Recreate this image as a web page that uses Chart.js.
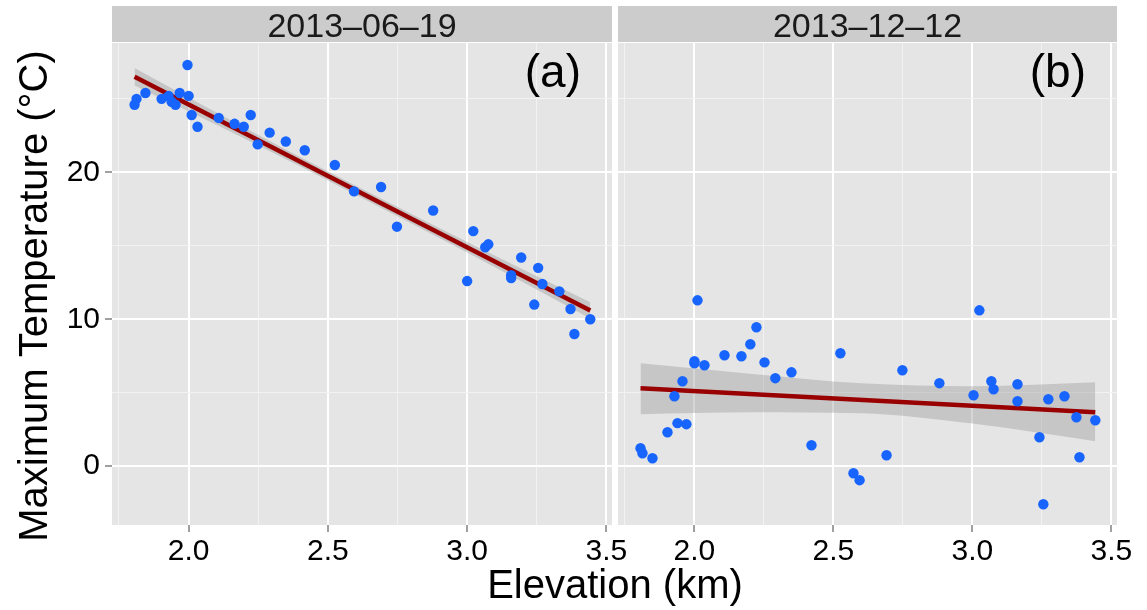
<!DOCTYPE html>
<html>
<head>
<meta charset="utf-8">
<script src="https://cdn.jsdelivr.net/npm/chart.js@4.4.0/dist/chart.umd.min.js"></script>
<style>
body { margin: 0; background: #fff; width: 1147px; height: 610px; position: relative; overflow: hidden;
       font-family: "Liberation Sans", Arial, sans-serif; }
#chartA { position: absolute; left: 0; top: 0; }
#chartB { position: absolute; left: 600px; top: 0; }
#xtitle { position: absolute; left: 415px; width: 400px; top: 564px; text-align: center;
          font-size: 40px; line-height: 40px; color: #000; }
</style>
</head>
<body>
<canvas id="chartA" width="640" height="610"></canvas>
<canvas id="chartB" width="547" height="610"></canvas>
<div id="xtitle">Elevation (km)</div>
<script>
// panel names and tags
var panelNames = ['2013–06–19', '2013–12–12'];
var panelTags = ['(a)', '(b)'];

// station data, panel (a)
var elevA = [1.806, 1.813, 1.845, 1.903, 1.928, 1.939, 1.953, 1.968, 1.996, 2.0, 2.011, 2.032, 2.108,
             2.165, 2.198, 2.223, 2.248, 2.291, 2.349, 2.417, 2.525, 2.594, 2.691, 2.748, 2.878, 3.0,
             3.022, 3.065, 3.076, 3.158, 3.158, 3.194, 3.241, 3.255, 3.270, 3.331, 3.371, 3.385, 3.442];
var tempA = [24.6, 25.0, 25.4, 25.0, 25.2, 24.8, 24.6, 25.4, 27.3, 25.2, 23.9, 23.1, 23.7,
             23.3, 23.1, 23.9, 21.9, 22.7, 22.1, 21.5, 20.5, 18.7, 19.0, 16.3, 17.4, 12.6,
             16.0, 14.9, 15.1, 13.0, 12.8, 14.2, 11.0, 13.5, 12.4, 11.9, 10.7, 9.0, 10.0];

// station data, panel (b)
var elevB = [1.806, 1.813, 1.849, 1.903, 1.928, 1.939, 1.957, 1.971, 2.0, 2.0, 2.011, 2.036, 2.108,
             2.169, 2.201, 2.223, 2.252, 2.291, 2.349, 2.421, 2.525, 2.572, 2.594, 2.691, 2.748, 2.881,
             3.004, 3.025, 3.068, 3.076, 3.162, 3.162, 3.241, 3.255, 3.273, 3.331, 3.374, 3.385, 3.442];
var tempB = [1.22, 0.88, 0.54, 2.31, 4.76, 2.93, 5.78, 2.86, 7.14, 7.0, 11.29, 6.87, 7.55,
             7.48, 8.30, 9.46, 7.07, 5.99, 6.39, 1.43, 7.69, -0.48, -0.95, 0.75, 6.53, 5.65,
             4.83, 10.61, 5.78, 5.24, 5.58, 4.42, 1.97, -2.59, 4.56, 4.76, 3.33, 0.61, 3.13];

// fitted lines and confidence bands
var fitXA = [1.806, 3.442];
var fitYA = [26.5, 10.6];
var bandXA = [1.806, 2.2, 2.6, 3.0, 3.442];
var bandLoA = [25.9, 22.3, 18.48, 14.54, 10.05];
var bandHiA = [27.1, 23.05, 19.08, 15.26, 11.15];

var fitXB = [1.806, 3.442];
var fitYB = [5.31, 3.67];
var bandXB = [1.806, 2.2, 2.6, 3.0, 3.442];
var bandLoB = [3.54, 3.67, 3.6, 2.9, 1.7];
var bandHiB = [7.0, 6.3, 5.65, 5.45, 5.71];

// axes
var xTicks = [1.75, 2.0, 2.25, 2.5, 2.75, 3.0, 3.25, 3.5];
var xTickLabels = ['', '2.0', '', '2.5', '', '3.0', '', '3.5'];
var yTicks = [0, 5, 10, 15, 20, 25];
var yTickLabels = ['0', '', '10', '', '20', ''];
var xMin = 1.725, xMax = 3.52;
var yMin = -4.0, yMax = 28.8;

Chart.defaults.font.family = '"Liberation Sans", Arial, sans-serif';

function pts(xs, ys) {
    return xs.map(function (x, i) { return { x: x, y: ys[i] }; });
}

function decoPlugin(name, tag, yTitle) {
    return {
        id: 'deco',
        beforeDraw: function (chart) {
            var a = chart.chartArea, c = chart.ctx;
            c.save();
            c.fillStyle = '#e5e5e5';
            c.fillRect(a.left, a.top, a.right - a.left, a.bottom - a.top);
            c.fillStyle = '#cccccc';
            c.fillRect(a.left, 6, a.right - a.left, a.top - 7);
            c.fillStyle = '#1a1a1a';
            c.font = '34px "Liberation Sans", Arial, sans-serif';
            c.textAlign = 'center';
            c.textBaseline = 'alphabetic';
            c.fillText(name, (a.left + a.right) / 2, 37);
            c.restore();
        },
        afterDraw: function (chart) {
            var a = chart.chartArea, c = chart.ctx;
            c.save();
            c.fillStyle = '#000';
            c.font = '46px "Liberation Sans", Arial, sans-serif';
            c.textAlign = 'right';
            c.textBaseline = 'alphabetic';
            c.fillText(tag, a.right - 31, 87);
            if (yTitle) {
                c.translate(47, 296);
                c.rotate(-Math.PI / 2);
                c.font = '40px "Liberation Sans", Arial, sans-serif';
                c.textAlign = 'center';
                c.fillText(yTitle, 0, 0);
            }
            c.restore();
        }
    };
}

function makePanel(id, i, elev, temp, fitX, fitY, bandX, bandLo, bandHi, showY, pad) {
    var ctx = document.getElementById(id).getContext('2d');
    return new Chart(ctx, {
        type: 'scatter',
        data: {
            datasets: [{
                data: pts(elev, temp),
                backgroundColor: '#1764ff',
                borderWidth: 0,
                pointRadius: 5.2
            }, {
                type: 'line',
                data: pts(fitX, fitY),
                borderColor: '#990000',
                borderWidth: 4.5,
                pointRadius: 0,
                fill: false
            }, {
                type: 'line',
                data: pts(bandX, bandHi),
                borderWidth: 0,
                borderColor: 'rgba(0,0,0,0)',
                backgroundColor: 'rgba(153,153,153,0.4)',
                pointRadius: 0,
                cubicInterpolationMode: 'monotone',
                fill: '+1'
            }, {
                type: 'line',
                data: pts(bandX, bandLo),
                borderWidth: 0,
                borderColor: 'rgba(0,0,0,0)',
                pointRadius: 0,
                cubicInterpolationMode: 'monotone',
                fill: false
            }]
        },
        options: {
            responsive: false,
            animation: false,
            layout: { padding: pad },
            plugins: { legend: { display: false }, tooltip: { enabled: false } },
            scales: {
                x: {
                    type: 'linear', min: xMin, max: xMax,
                    afterBuildTicks: function (s) { s.ticks = xTicks.map(function (v) { return { value: v }; }); },
                    afterFit: function (s) { s.height = 85; },
                    border: { display: false },
                    grid: {
                        color: function (c) { return xTickLabels[c.index] ? '#ffffff' : '#f2f2f2'; },
                        lineWidth: function (c) { return xTickLabels[c.index] ? 2 : 1; },
                        tickColor: function (c) { return xTickLabels[c.index] ? '#808080' : 'rgba(0,0,0,0)'; },
                        tickWidth: 1.5,
                        tickLength: 7
                    },
                    ticks: {
                        autoSkip: false, maxRotation: 0, padding: 2,
                        color: '#000000',
                        font: { size: 30 },
                        callback: function (v, k) { return xTickLabels[k]; }
                    }
                },
                y: {
                    type: 'linear', min: yMin, max: yMax,
                    afterBuildTicks: function (s) { s.ticks = yTicks.map(function (v) { return { value: v }; }); },
                    afterFit: function (s) { s.width = showY ? 112 : 0; },
                    border: { display: false },
                    grid: {
                        color: function (c) { return yTickLabels[c.index] ? '#ffffff' : '#f2f2f2'; },
                        lineWidth: function (c) { return yTickLabels[c.index] ? 2 : 1; },
                        tickColor: function (c) { return yTickLabels[c.index] ? '#808080' : 'rgba(0,0,0,0)'; },
                        tickWidth: 1.5,
                        tickLength: 7,
                        drawTicks: showY
                    },
                    ticks: {
                        display: showY, padding: 5,
                        color: '#000000',
                        font: { size: 30 },
                        callback: function (v, k) { return yTickLabels[k]; }
                    }
                }
            }
        },
        plugins: [decoPlugin(panelNames[i], panelTags[i], showY ? 'Maximum Temperature (°C)' : null)]
    });
}

var chartA = makePanel('chartA', 0, elevA, tempA, fitXA, fitYA, bandXA, bandLoA, bandHiA, true,
    { left: 0, right: 28, top: 43, bottom: 0 });
var chartB = makePanel('chartB', 1, elevB, tempB, fitXB, fitYB, bandXB, bandLoB, bandHiB, false,
    { left: 18, right: 30, top: 43, bottom: 0 });
</script>
</body>
</html>
